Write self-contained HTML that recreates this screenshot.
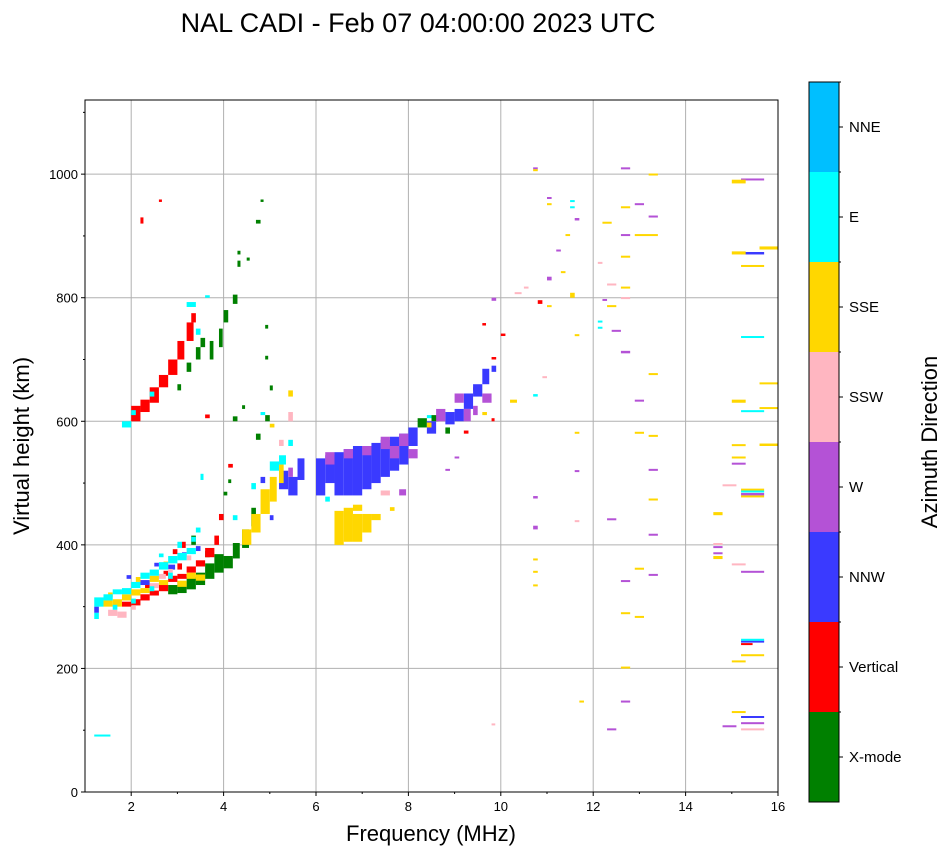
<!DOCTYPE html>
<html><head><meta charset="utf-8"><style>
body{margin:0;background:#fff}
svg{display:block;font-family:"Liberation Sans","DejaVu Sans",sans-serif}
</style></head><body>
<svg id="chart" width="951" height="856" viewBox="0 0 951 856">
<text x="418" y="32" font-size="27" text-anchor="middle">NAL CADI - Feb 07 04:00:00 2023 UTC</text>
<g id="grid"></g>
<g id="marks"></g>
<rect x="85" y="100" width="693" height="692" fill="none" stroke="#000" stroke-width="1"/>
<g id="axes"></g>
<text x="431" y="841" font-size="22" text-anchor="middle">Frequency (MHz)</text>
<text transform="translate(29,446) rotate(-90)" font-size="22" text-anchor="middle">Virtual height (km)</text>
<g id="cbar"></g>
<text transform="translate(937,442) rotate(-90)" font-size="22" text-anchor="middle">Azimuth Direction</text>
</svg>
<script>
const xTicks=[2,4,6,8,10,12,14,16];
const yTicks=[0,200,400,600,800,1000];
const dirNames=["X-mode","Vertical","NNW","W","SSW","SSE","E","NNE"];
const dirColors=["#008000","#ff0000","#3a3aff","#b452d6","#ffb6c1","#ffd700","#00ffff","#00bfff"];
// marks: [freq MHz, height km, freq width MHz, height span km]
const xmodeMarks=[[2.8,320,0.2,15],[3.0,322,0.2,18],[3.2,328,0.2,20],[3.4,335,0.2,20],[3.6,345,0.2,25],[3.8,355,0.2,30],[4.0,362,0.2,20],[4.2,378,0.15,25],[4.4,395,0.15,30],[4.6,430,0.1,30],[3.0,650,0.08,10],[3.2,680,0.1,15],[3.4,700,0.1,20],[3.5,720,0.1,15],[3.7,700,0.08,30],[3.9,720,0.08,30],[4.0,760,0.1,20],[4.2,790,0.1,15],[4.3,850,0.06,10],[4.3,870,0.06,6],[4.5,860,0.06,5],[4.7,920,0.1,6],[4.8,955,0.06,4],[4.2,600,0.1,8],[4.4,620,0.06,6],[4.7,570,0.1,10],[4.9,600,0.1,10],[4.9,700,0.06,6],[4.9,750,0.06,6],[5.0,650,0.06,8],[4.1,500,0.06,6],[4.0,480,0.08,6],[8.2,590,0.2,15],[8.5,600,0.15,10],[8.8,580,0.1,10],[3.3,400,0.1,15],[3.6,380,0.1,10]];
const verticalMarks=[[1.8,300,0.2,8],[2.0,302,0.2,10],[2.2,310,0.2,10],[2.4,318,0.2,8],[2.6,325,0.2,10],[2.8,340,0.2,10],[3.0,345,0.2,8],[3.2,355,0.2,10],[3.4,365,0.2,10],[3.6,380,0.2,15],[3.8,400,0.1,15],[3.9,440,0.1,10],[3.1,395,0.08,10],[4.1,525,0.1,6],[3.6,605,0.1,6],[2.2,920,0.04,10],[2.6,955,0.06,4],[2.0,600,0.2,25],[2.2,615,0.2,20],[2.4,630,0.2,25],[2.6,655,0.2,20],[2.8,675,0.2,25],[3.0,700,0.15,30],[3.2,730,0.15,30],[3.3,760,0.1,15],[9.6,755,0.08,4],[9.8,700,0.1,4],[10.0,738,0.1,4],[9.8,600,0.06,5],[10.8,790,0.1,6],[9.4,650,0.1,5],[9.2,580,0.1,5],[15.2,238,0.25,3],[2.3,330,0.1,8],[2.7,350,0.1,8],[3.0,360,0.1,10],[2.9,385,0.1,8]];
const nnwMarks=[[1.2,290,0.1,10],[2.2,335,0.2,8],[2.8,360,0.15,8],[3.4,390,0.1,8],[4.8,500,0.1,10],[5.2,490,0.2,30],[5.4,480,0.2,30],[5.6,505,0.15,35],[6.0,480,0.2,60],[6.2,500,0.2,45],[6.4,480,0.2,70],[6.6,480,0.2,75],[6.8,480,0.2,80],[7.0,490,0.2,70],[7.2,500,0.2,65],[7.4,510,0.2,60],[7.6,520,0.2,55],[7.8,530,0.2,50],[8.0,560,0.2,30],[8.4,580,0.2,20],[8.8,595,0.2,20],[9.0,600,0.2,20],[9.2,620,0.2,25],[9.4,640,0.2,20],[9.6,660,0.15,25],[9.8,680,0.1,10],[5.0,440,0.08,8],[15.2,870,0.5,4],[15.2,242,0.5,3],[15.2,120,0.5,3],[1.9,345,0.1,6],[2.5,365,0.1,6],[3.1,380,0.1,8]];
const wMarks=[[5.4,510,0.1,15],[6.2,530,0.2,20],[6.6,540,0.2,15],[7.0,545,0.2,15],[7.4,555,0.2,20],[7.6,540,0.2,20],[7.8,560,0.2,20],[8.0,540,0.2,15],[7.8,480,0.15,10],[8.6,600,0.2,20],[9.0,630,0.2,15],[9.2,600,0.15,20],[9.4,610,0.1,15],[9.6,630,0.2,15],[9.8,795,0.1,5],[10.7,475,0.1,4],[10.7,425,0.1,6],[11.2,875,0.1,3],[11.0,960,0.1,3],[11.6,518,0.1,3],[11.6,925,0.1,4],[12.2,795,0.1,3],[12.4,745,0.2,3],[12.6,710,0.2,4],[12.6,900,0.2,3],[12.6,1008,0.2,3],[12.6,340,0.2,3],[12.6,145,0.2,3],[12.3,440,0.2,3],[12.3,100,0.2,3],[12.9,632,0.2,3],[12.9,950,0.2,3],[13.2,930,0.2,3],[13.2,520,0.2,3],[13.2,415,0.2,3],[13.2,350,0.2,3],[14.6,395,0.2,3],[14.6,385,0.2,3],[14.8,105,0.3,3],[15.0,530,0.3,3],[15.2,990,0.5,3],[15.2,355,0.5,3],[15.2,110,0.5,3],[15.2,480,0.5,4],[11.0,828,0.1,6],[10.7,1008,0.1,3],[8.8,520,0.1,3],[9.0,540,0.1,3]];
const sswMarks=[[1.5,285,0.2,10],[1.7,282,0.2,10],[2.4,330,0.2,8],[2.6,345,0.15,8],[3.2,375,0.1,8],[5.4,600,0.1,15],[5.2,560,0.1,10],[7.4,480,0.2,8],[10.3,806,0.15,3],[10.5,815,0.1,3],[10.9,670,0.1,3],[12.3,820,0.2,3],[12.6,798,0.2,3],[11.6,437,0.1,3],[14.6,400,0.2,3],[15.0,367,0.3,3],[15.2,100,0.5,3],[9.8,108,0.08,3],[12.1,855,0.1,3],[14.8,495,0.3,3],[2.0,295,0.1,6],[2.8,355,0.1,6]];
const sseMarks=[[1.4,300,0.2,10],[1.6,300,0.2,12],[1.8,310,0.2,10],[2.0,318,0.2,10],[2.2,322,0.2,8],[2.4,340,0.2,10],[2.6,335,0.2,8],[3.0,332,0.2,10],[3.4,342,0.2,10],[4.4,400,0.2,25],[4.6,420,0.2,30],[4.8,450,0.2,40],[5.0,470,0.15,40],[5.2,500,0.1,30],[5.0,590,0.1,6],[5.4,640,0.1,10],[6.4,400,0.2,55],[6.6,405,0.2,55],[6.8,405,0.2,45],[7.0,420,0.2,30],[7.2,440,0.2,10],[6.8,455,0.2,10],[7.6,455,0.1,6],[8.4,590,0.1,8],[9.6,610,0.1,5],[10.2,630,0.15,5],[10.7,375,0.1,3],[10.7,355,0.1,3],[10.7,333,0.1,3],[10.7,1005,0.1,3],[11.0,950,0.1,3],[11.0,785,0.1,3],[11.3,840,0.1,3],[11.4,900,0.1,3],[11.5,800,0.1,8],[11.6,738,0.1,3],[11.6,580,0.1,3],[11.7,145,0.1,3],[12.2,920,0.2,3],[12.3,785,0.2,3],[12.6,945,0.2,3],[12.6,865,0.2,3],[12.6,815,0.2,3],[12.6,288,0.2,3],[12.6,200,0.2,3],[12.9,900,0.5,3],[12.9,580,0.2,3],[12.9,360,0.2,3],[12.9,282,0.2,3],[13.2,998,0.2,3],[13.2,675,0.2,3],[13.2,575,0.2,3],[13.2,472,0.2,3],[14.6,448,0.2,5],[14.6,377,0.2,5],[15.0,985,0.3,6],[15.0,870,0.3,5],[15.0,630,0.3,5],[15.0,560,0.3,3],[15.0,540,0.3,3],[15.0,210,0.3,3],[15.0,128,0.3,3],[15.2,850,0.5,3],[15.2,220,0.5,3],[15.6,660,0.4,3],[15.6,620,0.4,3],[15.6,560,0.4,4],[15.6,878,0.4,5],[15.2,488,0.5,3],[15.2,477,0.5,3],[1.5,315,0.1,8],[2.1,340,0.1,8],[2.7,365,0.1,8],[3.2,345,0.2,10]];
const eMarks=[[1.2,300,0.2,15],[1.4,310,0.2,10],[1.6,320,0.2,8],[1.8,320,0.2,10],[2.0,330,0.2,10],[2.2,345,0.2,10],[2.4,350,0.2,10],[2.6,360,0.2,12],[2.8,370,0.2,12],[3.0,375,0.2,12],[3.2,385,0.2,10],[3.4,420,0.1,8],[3.5,505,0.06,10],[1.2,90,0.35,3],[4.2,440,0.1,8],[4.6,490,0.1,10],[5.0,520,0.2,15],[5.2,530,0.15,15],[5.4,560,0.1,10],[4.8,610,0.1,5],[1.8,590,0.2,10],[2.0,610,0.1,8],[2.4,640,0.1,8],[3.2,785,0.2,8],[3.6,800,0.1,4],[3.4,740,0.1,10],[11.5,955,0.1,3],[11.5,945,0.1,3],[10.7,640,0.1,4],[12.1,760,0.1,3],[12.1,750,0.1,3],[15.2,735,0.5,3],[15.2,615,0.5,3],[15.2,485,0.5,3],[15.2,245,0.5,3],[8.4,605,0.1,5],[6.2,470,0.1,8],[1.2,280,0.1,10],[1.6,295,0.1,8],[2.0,305,0.1,8],[2.4,325,0.1,8],[2.8,345,0.1,10],[3.0,395,0.1,10],[3.3,405,0.1,8],[2.6,380,0.1,6]];
const seriesList=[xmodeMarks,verticalMarks,nnwMarks,wMarks,sswMarks,sseMarks,eMarks];

const NS="http://www.w3.org/2000/svg";
const X0=85,X1=778,Y0=792,Y1=100,FMIN=1,FMAX=16,HMIN=0,HMAX=1120;
function xs(f){return X0+(f-FMIN)/(FMAX-FMIN)*(X1-X0);}
function ys(h){return Y0-(h-HMIN)/(HMAX-HMIN)*(Y0-Y1);}
function mk(tag,attrs,parent){const e=document.createElementNS(NS,tag);for(const k in attrs)e.setAttribute(k,attrs[k]);parent.appendChild(e);return e;}
const grid=document.getElementById('grid'),axes=document.getElementById('axes'),marks=document.getElementById('marks'),cbar=document.getElementById('cbar');
xTicks.forEach(t=>{const x=xs(t);
 const g=mk('line',{x1:x,x2:x,y1:Y1,y2:Y0,stroke:'#b0b0b0','stroke-width':1},grid);
 
 
 mk('line',{x1:x,x2:x,y1:Y0,y2:Y0+4,stroke:'#000'},axes);
 const tx=mk('text',{x:x,y:Y0+19,'font-size':13,'text-anchor':'middle'},axes);tx.textContent=t;
 
 
});
for(let f=3;f<=15;f+=2){const x=xs(f);mk('line',{x1:x,x2:x,y1:Y0,y2:Y0+2,stroke:'#000'},axes);}
yTicks.forEach(t=>{const y=ys(t);
 const g=mk('line',{x1:X0,x2:X1,y1:y,y2:y,stroke:'#b0b0b0','stroke-width':1},grid);
 
 
 mk('line',{x1:X0-4,x2:X0,y1:y,y2:y,stroke:'#000'},axes);
 const tx=mk('text',{x:X0-7,y:y+5,'font-size':13,'text-anchor':'end'},axes);tx.textContent=t;
 
 
});
for(let h=100;h<=1100;h+=200){const y=ys(h);mk('line',{x1:X0-2,x2:X0,y1:y,y2:y,stroke:'#000'},axes);}
seriesList.forEach((arr,si)=>{
 arr.forEach(m=>{
  const x=xs(m[0]),w=Math.max(3,xs(m[0]+m[2])-x);
  const y=ys(m[1]+m[3]),h=Math.max(2,ys(m[1])-y);
  const r=mk('rect',{x:x,y:y,width:w,height:h,fill:dirColors[si]},marks);
  
  
 });
});
const CX=809,CW=30,CT=82,CB=802,seg=(CB-CT)/dirNames.length;
dirNames.forEach((n,i)=>{
 const y=CB-(i+1)*seg;
 const r=mk('rect',{x:CX,y:y,width:CW,height:seg,fill:dirColors[i]},cbar);
 
 
 mk('line',{x1:CX+CW,x2:CX+CW+4,y1:y+seg/2,y2:y+seg/2,stroke:'#000'},cbar);
 mk('line',{x1:CX+CW,x2:CX+CW+2,y1:y,y2:y,stroke:'#000'},cbar);
 const t=mk('text',{x:CX+CW+10,y:y+seg/2+5,'font-size':15},cbar);t.textContent=n;
 
 
});
mk('rect',{x:CX,y:CT,width:CW,height:CB-CT,fill:'none',stroke:'#000'},cbar);
</script>
</body></html>
